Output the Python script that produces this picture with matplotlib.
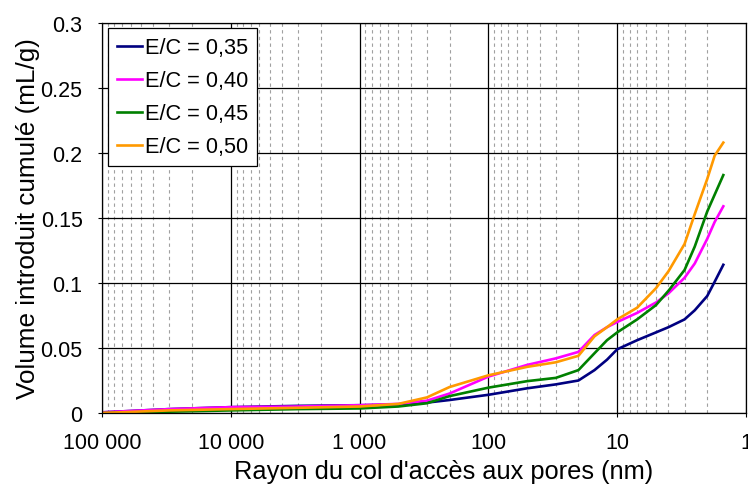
import numpy as np
import matplotlib
matplotlib.use('Agg')
from matplotlib import pyplot as plt
from matplotlib.ticker import LogLocator, FixedLocator, FuncFormatter, NullFormatter

plt.rcParams['font.family'] = ['Liberation Sans', 'DejaVu Sans']

# pore radius (nm), shared by all series
rayon = [100000, 30000, 10000, 3000, 1000, 500, 300, 200, 100, 50, 30, 20,
         15, 12, 10, 7, 5, 4, 3, 2.5, 2, 1.75, 1.5]

ec_035 = [0.0005, 0.003, 0.0045, 0.0055, 0.006, 0.0065, 0.008, 0.010, 0.014,
          0.019, 0.022, 0.025, 0.033, 0.041, 0.049, 0.056, 0.062, 0.066,
          0.072, 0.079, 0.090, 0.101, 0.114]
ec_040 = [0.0005, 0.003, 0.0045, 0.005, 0.006, 0.007, 0.0095, 0.015, 0.028,
          0.037, 0.042, 0.047, 0.060, 0.066, 0.070, 0.077, 0.085, 0.092,
          0.104, 0.115, 0.134, 0.147, 0.159]
ec_045 = [0.0, 0.001, 0.002, 0.003, 0.0035, 0.005, 0.0075, 0.013, 0.0195,
          0.0245, 0.027, 0.033, 0.046, 0.056, 0.062, 0.072, 0.083, 0.094,
          0.110, 0.128, 0.155, 0.168, 0.183]
ec_050 = [0.0, 0.002, 0.003, 0.004, 0.005, 0.007, 0.012, 0.020, 0.029,
          0.0355, 0.039, 0.044, 0.059, 0.066, 0.072, 0.081, 0.096, 0.109,
          0.130, 0.153, 0.180, 0.198, 0.208]

series = [ec_035, ec_040, ec_045, ec_050]
noms = ['E/C = 0,35', 'E/C = 0,40', 'E/C = 0,45', 'E/C = 0,50']
couleurs = ['#000080', '#FF00FF', '#008000', '#FF9900']

fig = plt.figure(figsize=(7.48, 4.89), dpi=100)
ax = fig.add_axes([102/748, 1 - 414/489, 644/748, 390/489])

for vals, nom, c in zip(series, noms, couleurs):
    ax.plot(rayon, vals, color=c, lw=1.9, label=nom, solid_joinstyle='round')

ax.set_xscale('log')
ax.set_xlim(100000, 1)
ax.set_ylim(0, 0.3)
ax.set_yticks(np.arange(0, 0.301, 0.05))
ax.yaxis.set_major_formatter(FuncFormatter(lambda v, p: '%g' % round(v, 2)))
ax.xaxis.set_major_locator(FixedLocator([1, 10, 100, 1000, 10000, 100000]))
ax.xaxis.set_major_formatter(FuncFormatter(lambda v, p: f'{int(round(v)):,}'.replace(',', ' ')))
ax.xaxis.set_minor_locator(LogLocator(base=10, subs=np.arange(2, 10), numticks=20))
ax.xaxis.set_minor_formatter(NullFormatter())

ax.grid(True, which='major', axis='both', color='black', lw=0.9)
ax.grid(True, which='minor', axis='x', color='#a0a0a0', lw=0.8, linestyle=(0, (3, 3)))
ax.set_axisbelow(True)

ax.tick_params(axis='x', which='major', direction='out', length=3, pad=10.5, labelsize=15.5)
ax.tick_params(axis='y', which='major', direction='out', length=3, pad=11, labelsize=15.5)
ax.tick_params(axis='x', which='minor', length=0)
for s in ax.spines.values():
    s.set_color('black')
    s.set_linewidth(0.9)

ax.set_xlabel("Rayon du col d'accès aux pores (nm)", fontsize=18.3)
ax.set_ylabel('Volume introduit cumulé (mL/g)', fontsize=18.8)
ax.xaxis.set_label_coords(0.53, -0.118)
ax.yaxis.set_label_coords(-0.097, 0.5)

leg = ax.legend(loc='upper left', bbox_to_anchor=(6/644, 1 - 5/390), fontsize=15.7,
                fancybox=False, framealpha=1, edgecolor='black', borderaxespad=0,
                handlelength=1.15, handletextpad=0.12, labelspacing=0.55,
                borderpad=0.42)
leg.get_frame().set_linewidth(0.9)

fig.savefig('out.png', dpi=100)
